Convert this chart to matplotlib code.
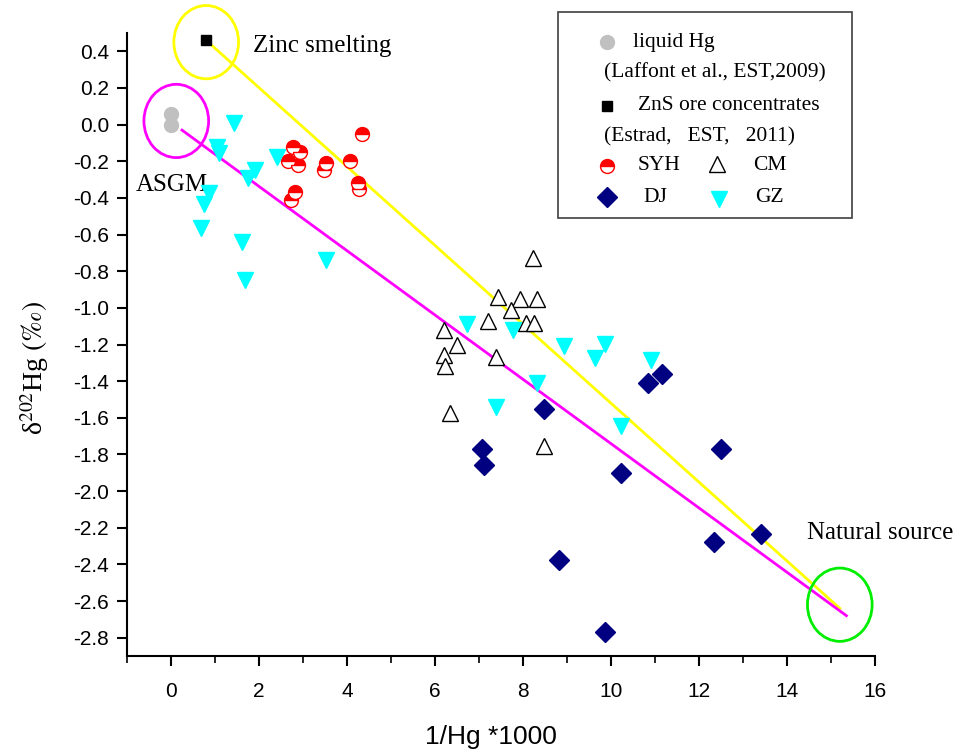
import matplotlib
matplotlib.use('Agg')
import matplotlib.pyplot as plt
from matplotlib.patches import Ellipse, Rectangle
from matplotlib.lines import Line2D

plt.rcParams['font.family'] = 'Liberation Sans'
plt.rcParams['mathtext.fontset'] = 'stix'

# --- data (1/Hg*1000, delta202Hg) ---
liquid_x = [0.0, 0.0]
liquid_y = [0.06, 0.0]

zns_x = [0.80]
zns_y = [0.46]

syh_x = [2.78, 2.93, 2.67, 2.89, 3.52, 3.48, 4.07, 4.33, 4.26, 4.28, 2.82, 2.73]
syh_y = [-0.12, -0.15, -0.20, -0.22, -0.21, -0.25, -0.20, -0.05, -0.32, -0.35, -0.37, -0.41]

cm_x = [8.22, 7.43, 7.93, 8.31, 7.72, 7.21, 8.06, 8.26, 6.21, 6.50, 6.21, 6.23, 7.39, 6.35, 8.48]
cm_y = [-0.73, -0.94, -0.95, -0.95, -1.01, -1.07, -1.08, -1.085, -1.12, -1.20, -1.26, -1.32, -1.27, -1.575, -1.755]

dj_x = [8.48, 7.06, 7.12, 10.83, 11.15, 10.23, 12.51, 12.33, 13.41, 8.81, 9.87]
dj_y = [-1.55, -1.77, -1.86, -1.41, -1.36, -1.90, -1.77, -2.28, -2.235, -2.375, -2.77]

gz_x = [1.44, 1.05, 1.10, 2.40, 1.91, 1.76, 0.86, 0.74, 0.68, 1.61, 3.53, 1.69,
        6.72, 7.77, 8.94, 9.87, 9.63, 8.32, 7.39, 10.23, 10.91]
gz_y = [0.01, -0.12, -0.155, -0.175, -0.245, -0.29, -0.375, -0.435, -0.565, -0.64, -0.74, -0.85,
        -1.09, -1.12, -1.21, -1.195, -1.275, -1.41, -1.54, -1.645, -1.285]

# mixing lines (end members)
zinc_line_x = [0.80, 15.20]
zinc_line_y = [0.46, -2.64]
asgm_line_x = [0.25, 15.35]
asgm_line_y = [-0.03, -2.68]

# circled end members: center x, center y, colour
circle_cx = [0.80, 0.12, 15.20]
circle_cy = [0.45, 0.02, -2.62]
circle_col = ['#ffff00', '#ff00ff', '#00ee00']

fig = plt.figure(figsize=(9.6, 7.55), dpi=100)
ax = fig.add_axes([127 / 960, 1 - 656 / 755, 748 / 960, 623 / 755])

ax.plot(zinc_line_x, zinc_line_y, color='#ffff00', lw=2.0, zorder=2)
ax.plot(asgm_line_x, asgm_line_y, color='#ff00ff', lw=2.0, zorder=2)

for cx, cy, c in zip(circle_cx, circle_cy, circle_col):
    ax.add_patch(Ellipse((cx, cy), 1.47, 0.40, fill=False, edgecolor=c, lw=2.0,
                         zorder=3, clip_on=False))

ax.plot(liquid_x, liquid_y, 'o', color='#c0c0c0', ms=10, mec='#c0c0c0', zorder=4)
ax.plot(zns_x, zns_y, 's', color='black', ms=7, zorder=4)
ax.plot(syh_x, syh_y, 'o', ms=10, fillstyle='top', mfc='red', mfcalt='white',
        mec='red', mew=1.0, zorder=4, ls='none')
ax.plot(cm_x, cm_y, '^', ms=11, mfc='white', mec='black', mew=1.0, zorder=4, ls='none')
ax.plot(gz_x, gz_y, 'v', ms=12, color='#00ffff', mec='#00ffff', zorder=4, ls='none')
ax.plot(dj_x, dj_y, 'D', ms=10, color='#000080', mec='#000080', zorder=5, ls='none')

serif = 'Liberation Serif'
ax.text(1.87, 0.43, 'Zinc smelting', family=serif, fontsize=18, va='center', ha='left')
ax.text(-0.80, -0.33, 'ASGM', family=serif, fontsize=18, va='center', ha='left')
ax.text(14.45, -2.23, 'Natural source', family=serif, fontsize=18, va='center', ha='left')

ax.set_xlim(-1, 16)
ax.set_ylim(-2.9, 0.5)
ax.set_xticks(range(0, 17, 2))
ax.set_xticks(range(-1, 17), minor=True)
ax.set_yticks([round(-2.8 + 0.2 * i, 1) for i in range(17)])
ax.yaxis.set_major_formatter(matplotlib.ticker.FormatStrFormatter('%.1f'))
for s in ['top', 'right']:
    ax.spines[s].set_visible(False)
for s in ['left', 'bottom']:
    ax.spines[s].set_linewidth(1.5)
ax.tick_params(axis='both', which='major', direction='out', length=7, width=1.5,
               labelsize=15, pad=6)
ax.tick_params(axis='x', which='minor', direction='out', length=5, width=1.2)
ax.tick_params(axis='x', which='major', pad=12)

fig.text(491 / 960, 1 - 737 / 755, '1/Hg *1000', fontsize=19, ha='center', va='center')
fig.text(35 / 960, 1 - 368 / 755, r'δ$^{202}$Hg $(\mathit{‰})$', family=serif,
         fontsize=20, rotation=90, ha='center', va='center')

# legend box drawn by hand (mixed single / two column layout)
fig.add_artist(Rectangle((558 / 960, 1 - 218 / 755), 294 / 960, 206 / 755,
                         transform=fig.transFigure, fill=False, edgecolor='#404040', lw=1.2))


def fx(px):
    return px / 960


def fy(py):
    return 1 - py / 755


def leg_marker(px, py, **kw):
    fig.add_artist(Line2D([fx(px)], [fy(py)], transform=fig.transFigure, ls='none', **kw))


def leg_text(px, py, s):
    fig.text(fx(px), fy(py), s, family=serif, fontsize=15.5, ha='left', va='center')


leg_marker(607, 42, marker='o', ms=10, color='#c0c0c0')
leg_text(633, 42, 'liquid Hg')
leg_text(604, 73, '(Laffont et al., EST,2009)')
leg_marker(607, 106, marker='s', ms=7, color='black')
leg_text(638, 106, 'ZnS ore concentrates')
leg_text(604, 137, '(Estrad,   EST,   2011)')
leg_marker(607, 166, marker='o', ms=10, fillstyle='top', mfc='red', mfcalt='white', mec='red')
leg_text(638, 166, 'SYH')
leg_marker(717, 164, marker='^', ms=11, mfc='white', mec='black')
leg_text(753, 166, 'CM')
leg_marker(607, 197, marker='D', ms=10, color='#000080')
leg_text(643, 197, 'DJ')
leg_marker(719, 199, marker='v', ms=12, color='#00ffff')
leg_text(755, 197, 'GZ')

fig.savefig('out.png', dpi=100)
